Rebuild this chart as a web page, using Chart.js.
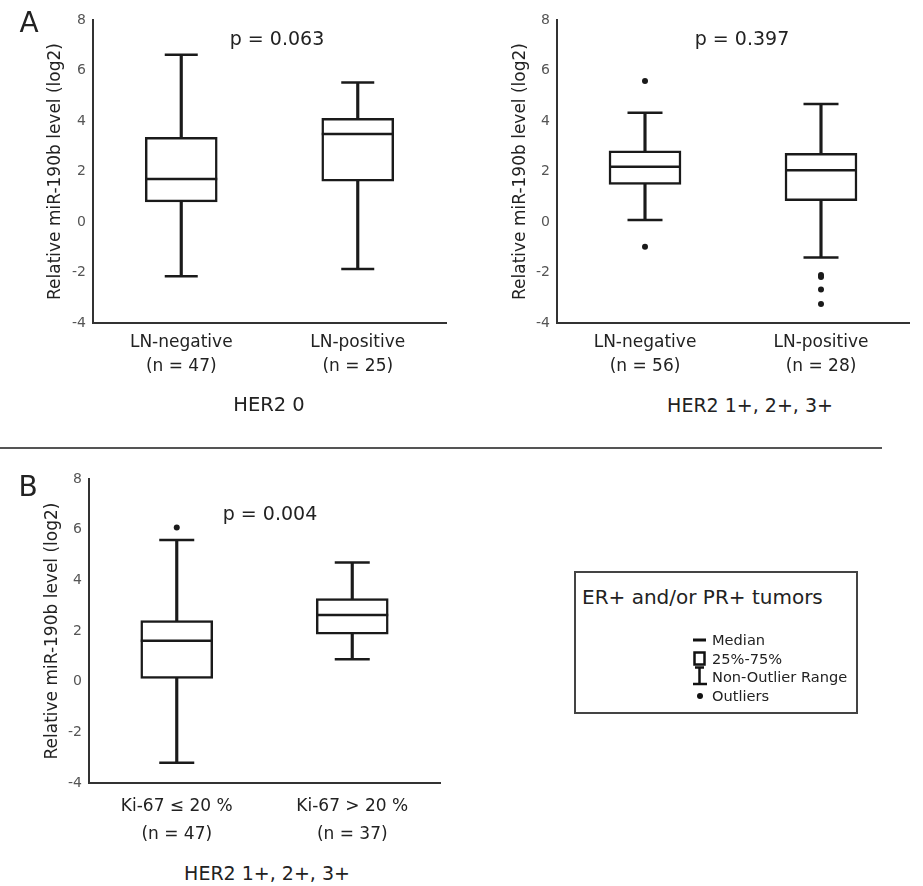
<!DOCTYPE html>
<html>
<head>
<meta charset="utf-8">
<script src="https://cdn.jsdelivr.net/npm/chart.js@4/dist/chart.umd.min.js"></script>
<style>
  html, body { margin: 0; padding: 0; background: #fff; }
  #wrap { position: relative; width: 923px; height: 886px; overflow: hidden; font-family: "DejaVu Sans", sans-serif; color: #222; }
  canvas { position: absolute; }
  .t { position: absolute; white-space: nowrap; transform: translate(-50%, -50%); line-height: 1; }
  .l { position: absolute; white-space: nowrap; transform: translate(0, -50%); line-height: 1; }
</style>
</head>
<body>
<div id="wrap">
  <canvas id="cA1" width="460" height="383" style="left:0px;top:0px"></canvas>
  <canvas id="cA2" width="459" height="383" style="left:464px;top:0px"></canvas>
  <canvas id="cB" width="455" height="384" style="left:0px;top:459px"></canvas>

  <div class="t" style="left:29px;top:23px;font-size:28px;">A</div>
  <div class="t" style="left:28px;top:487px;font-size:28px;">B</div>

  <div class="t" style="left:277px;top:38px;font-size:19px;">p = 0.063</div>
  <div class="t" style="left:742px;top:38px;font-size:19px;">p = 0.397</div>
  <div class="t" style="left:270px;top:513px;font-size:19px;">p = 0.004</div>

  <div class="t" style="left:269px;top:405px;font-size:19.5px;">HER2 0</div>
  <div class="t" style="left:750px;top:405px;font-size:19px;">HER2 1+, 2+, 3+</div>
  <div class="t" style="left:267px;top:873px;font-size:19px;">HER2 1+, 2+, 3+</div>

  <div style="position:absolute;left:0px;top:447px;width:882px;height:2px;background:#555;"></div>

  <div style="position:absolute;left:574px;top:571px;width:284px;height:143px;border:2px solid #444;box-sizing:border-box;"></div>
  <div class="l" style="left:582px;top:597px;font-size:20px;">ER+ and/or PR+ tumors</div>
  <svg style="position:absolute;left:0;top:0" width="923" height="886">
    <line x1="693" y1="640" x2="706" y2="640" stroke="#111" stroke-width="3"/>
    <rect x="694.5" y="652.5" width="10" height="12" fill="none" stroke="#111" stroke-width="2.5"/>
    <line x1="699.5" y1="667" x2="699.5" y2="684" stroke="#111" stroke-width="2.5"/>
    <line x1="695" y1="667.5" x2="704" y2="667.5" stroke="#111" stroke-width="2.5"/>
    <line x1="693" y1="684" x2="707" y2="684" stroke="#111" stroke-width="2.5"/>
    <circle cx="700" cy="696" r="3" fill="#111"/>
  </svg>
  <div class="l" style="left:712px;top:640px;font-size:14.6px;">Median</div>
  <div class="l" style="left:712px;top:659px;font-size:14.6px;">25%-75%</div>
  <div class="l" style="left:712px;top:677px;font-size:14.6px;">Non-Outlier Range</div>
  <div class="l" style="left:712px;top:696px;font-size:14.6px;">Outliers</div>
</div>
<script>
// ---------- Data ----------
// Panel A, HER2 0
const catsA1 = [["LN-negative", "(n = 47)"], ["LN-positive", "(n = 25)"]];
const minA1 = [-2.15, -1.86];
const q1A1 = [0.80, 1.62];
const medA1 = [1.70, 3.49];
const q3A1 = [3.35, 4.11];
const maxA1 = [6.62, 5.52];
const outA1 = [[], []];

// Panel A, HER2 1+, 2+, 3+
const catsA2 = [["LN-negative", "(n = 56)"], ["LN-positive", "(n = 28)"]];
const minA2 = [0.08, -1.41];
const q1A2 = [1.49, 0.84];
const medA2 = [2.19, 2.05];
const q3A2 = [2.82, 2.72];
const maxA2 = [4.33, 4.67];
const outA2 = [[5.58, -0.98], [-2.10, -2.18, -2.67, -3.25]];

// Panel B, HER2 1+, 2+, 3+
const catsB = [["Ki-67 \u2264 20 %", "(n = 47)"], ["Ki-67 > 20 %", "(n = 37)"]];
const minB = [-3.20, 0.88];
const q1B = [0.13, 1.87];
const medB = [1.62, 2.63];
const q3B = [2.41, 3.28];
const maxB = [5.59, 4.70];
const outB = [[6.09], []];

const yTicks = [-4, -2, 0, 2, 4, 6, 8];
const yTitle = "Relative miR-190b level (log2)";

// ---------- Chart builder ----------
const INK = "#1a1a1a";
const FONT = "DejaVu Sans";

function boxChart(id, cats, mins, q1s, meds, q3s, maxs, outs, o) {
  const datasets = [
    { type: "bar", data: cats.map((_, i) => [mins[i], maxs[i]]), backgroundColor: INK,
      borderWidth: 0, barThickness: 2.5, grouped: false, order: 4 },
    { type: "bar", data: cats.map((_, i) => [q1s[i], q3s[i]]), backgroundColor: "#ffffff",
      borderColor: INK, borderWidth: 2.5, borderSkipped: false, barThickness: 72, grouped: false, order: 3 },
    { type: "line", data: meds, showLine: false, pointStyle: "line", pointRadius: 36,
      pointBorderWidth: 2.5, pointBorderColor: INK, borderColor: INK, order: 1 },
    { type: "line", data: maxs, showLine: false, pointStyle: "line", pointRadius: o.cap,
      pointBorderWidth: 2.5, pointBorderColor: INK, borderColor: INK, order: 2 },
    { type: "line", data: mins, showLine: false, pointStyle: "line", pointRadius: o.cap,
      pointBorderWidth: 2.5, pointBorderColor: INK, borderColor: INK, order: 2 }
  ];
  const nOut = Math.max(...outs.map(a => a.length));
  for (let j = 0; j < nOut; j++) {
    datasets.push({ type: "line", data: cats.map((_, i) => (outs[i][j] !== undefined ? outs[i][j] : null)),
      showLine: false, pointStyle: "circle", pointRadius: 3, pointBackgroundColor: INK,
      pointBorderColor: INK, pointBorderWidth: 0, order: 0 });
  }
  return new Chart(document.getElementById(id), {
    type: "bar",
    data: { labels: cats, datasets },
    options: {
      responsive: false,
      animation: false,
      events: [],
      devicePixelRatio: 1,
      layout: { autoPadding: false, padding: { left: 0, right: o.padRight, top: 20, bottom: 0 } },
      plugins: { legend: { display: false }, tooltip: { enabled: false }, title: { display: false } },
      scales: {
        x: {
          type: "category",
          offset: true,
          grid: { display: false, drawTicks: false },
          border: { display: true, color: "#333", width: 2 },
          ticks: { color: "#222", padding: o.xPad, autoSkip: false, maxRotation: 0,
                   font: { family: FONT, size: 17, lineHeight: o.xLine } },
          afterFit: s => { s.height = 60; }
        },
        y: {
          type: "linear",
          min: -4, max: 8,
          afterBuildTicks: s => { s.ticks = yTicks.map(v => ({ value: v })); },
          grid: { display: false, drawTicks: false },
          border: { display: true, color: "#333", width: 2 },
          ticks: { color: "#555", padding: 7, font: { family: FONT, size: 14 } },
          title: { display: true, text: yTitle, color: "#222",
                   font: { family: FONT, size: 17 }, padding: { top: o.titlePad, bottom: 0 } },
          afterFit: s => { s.width = o.yWidth; }
        }
      }
    }
  });
}

boxChart("cA1", catsA1, minA1, q1A1, medA1, q3A1, maxA1, outA1,
  { cap: 16.5, padRight: 14, xPad: 8, xLine: 24 / 17, titlePad: 45, yWidth: 93 });
boxChart("cA2", catsA2, minA2, q1A2, medA2, q3A2, maxA2, outA2,
  { cap: 17.5, padRight: 14, xPad: 8, xLine: 24 / 17, titlePad: 46, yWidth: 93 });
boxChart("cB", catsB, minB, q1B, medB, q3B, maxB, outB,
  { cap: 17.5, padRight: 15, xPad: 10, xLine: 28 / 17, titlePad: 42, yWidth: 89 });
</script>
</body>
</html>
